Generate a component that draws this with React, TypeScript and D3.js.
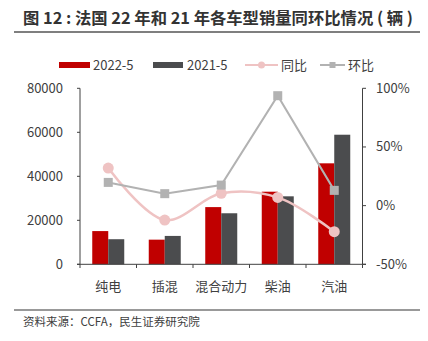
import React from "react";
import * as d3 from "d3";

const categories = ["纯电", "插混", "混合动力", "柴油", "汽油"];
const sales2022 = [15100, 11200, 26000, 33000, 45900];
const sales2021 = [11400, 12900, 23200, 30900, 58900];
const yoy = [32, -12.3, 10.5, 7, -22.2];
const mom = [19.8, 10.2, 17.5, 93.7, 13];
const leftTicks = [0, 20000, 40000, 60000, 80000];
const rightTicks = [-50, 0, 50, 100];

const W = 428, H = 341;
const FONT = "'Noto Sans CJK SC', 'Noto Sans', sans-serif";
const RED = "#c00000";
const DARK = "#4b4c4e";
const PINK = "#efc3c3";
const GRAY = "#b2b2b2";
const TXT = "#404040";

export default function App() {
  const x0 = d3.scaleBand<string>().domain(categories).range([80, 362.5]);
  const x1 = d3.scaleBand<string>().domain(["a", "b"]).range([0, 32]);
  const off = (x0.bandwidth() - 32) / 2;
  const yL = d3.scaleLinear().domain([0, 80000]).range([264.3, 88.3]);
  const yR = d3.scaleLinear().domain([-50, 100]).range([264.3, 88.3]);
  const cx = (c: string) => (x0(c) as number) + x0.bandwidth() / 2;
  const yoyLine = d3.line<number>().x((_, i) => cx(categories[i])).y((d) => yR(d)).curve(d3.curveCatmullRom.alpha(0.5))(yoy) as string;
  const momLine = d3.line<number>().x((_, i) => cx(categories[i])).y((d) => yR(d))(mom) as string;
  const boundaries = [...categories.map((c) => x0(c) as number), 362.5];

  return (
    <svg width={W} height={H} style={{ position: "absolute", left: 0, top: 0, fontFamily: FONT }}>
      <rect width={W} height={H} fill="#fff" />
      <text x={23} y={24} fontSize={16} fontWeight="bold" fill="#333" textLength={390} lengthAdjust="spacingAndGlyphs">图 12 : 法国 22 年和 21 年各车型销量同环比情况 ( 辆 )</text>
      <line x1={14} x2={420} y1={32} y2={32} stroke="#555" strokeWidth={1.5} />

      {/* legend */}
      <rect x={59} y={62} width={31} height={6} fill={RED} />
      <text x={93} y={70} fontSize={13} fill={TXT}>2022-5</text>
      <rect x={153} y={62} width={30} height={6} fill={DARK} />
      <text x={187} y={70} fontSize={13} fill={TXT}>2021-5</text>
      <line x1={245} x2={278} y1={65} y2={65} stroke={PINK} strokeWidth={2} />
      <circle cx={261.5} cy={65} r={3.5} fill={PINK} />
      <text x={281} y={70} fontSize={13} fill={TXT}>同比</text>
      <line x1={320} x2={345} y1={65} y2={65} stroke={GRAY} strokeWidth={2} />
      <rect x={329.5} y={62} width={6} height={6} fill={GRAY} />
      <text x={348} y={70} fontSize={13} fill={TXT}>环比</text>

      {/* bars */}
      {categories.map((c, i) => (
        <g key={c}>
          <rect x={(x0(c) as number) + off + (x1("a") as number)} y={yL(sales2022[i])} width={x1.bandwidth()} height={yL(0) - yL(sales2022[i])} fill={RED} />
          <rect x={(x0(c) as number) + off + (x1("b") as number)} y={yL(sales2021[i])} width={x1.bandwidth()} height={yL(0) - yL(sales2021[i])} fill={DARK} />
        </g>
      ))}

      {/* left axis */}
      <line x1={80} x2={80} y1={88.3} y2={264.3} stroke="#404040" strokeWidth={1} />
      {leftTicks.map((t) => (
        <g key={t}>
          <line x1={77} x2={80} y1={yL(t)} y2={yL(t)} stroke="#404040" />
          <text x={63} y={yL(t) + 4.5} fontSize={13} textAnchor="end" fill={TXT}>{t}</text>
        </g>
      ))}
      {/* right axis */}
      <line x1={362.5} x2={362.5} y1={88.3} y2={264.3} stroke="#404040" strokeWidth={1} />
      {rightTicks.map((t) => (
        <g key={t}>
          <line x1={362.5} x2={366} y1={yR(t)} y2={yR(t)} stroke="#404040" />
          <text x={376} y={yR(t) + 4.5} fontSize={13} fill={TXT}>{t}%</text>
        </g>
      ))}
      {/* bottom axis */}
      <line x1={77} x2={366} y1={264.3} y2={264.3} stroke="#404040" strokeWidth={1} />
      {boundaries.map((b, i) => (
        <line key={i} x1={b} x2={b} y1={264.3} y2={268} stroke="#404040" />
      ))}
      {categories.map((c) => (
        <text key={c} x={cx(c)} y={291} fontSize={13} textAnchor="middle" fill={TXT}>{c}</text>
      ))}

      {/* lines */}
      <path d={yoyLine} fill="none" stroke={PINK} strokeWidth={2.5} />
      {yoy.map((v, i) => (
        <circle key={i} cx={cx(categories[i])} cy={yR(v)} r={5.5} fill={PINK} />
      ))}
      <path d={momLine} fill="none" stroke={GRAY} strokeWidth={2} />
      {mom.map((v, i) => (
        <rect key={i} x={cx(categories[i]) - 4.5} y={yR(v) - 4.5} width={9} height={9} fill={GRAY} />
      ))}

      <line x1={14} x2={420} y1={310} y2={310} stroke="#777" strokeWidth={1.5} />
      <text x={23} y={326} fontSize={11.5} fill={TXT}>资料来源：CCFA，民生证券研究院</text>
    </svg>
  );
}
